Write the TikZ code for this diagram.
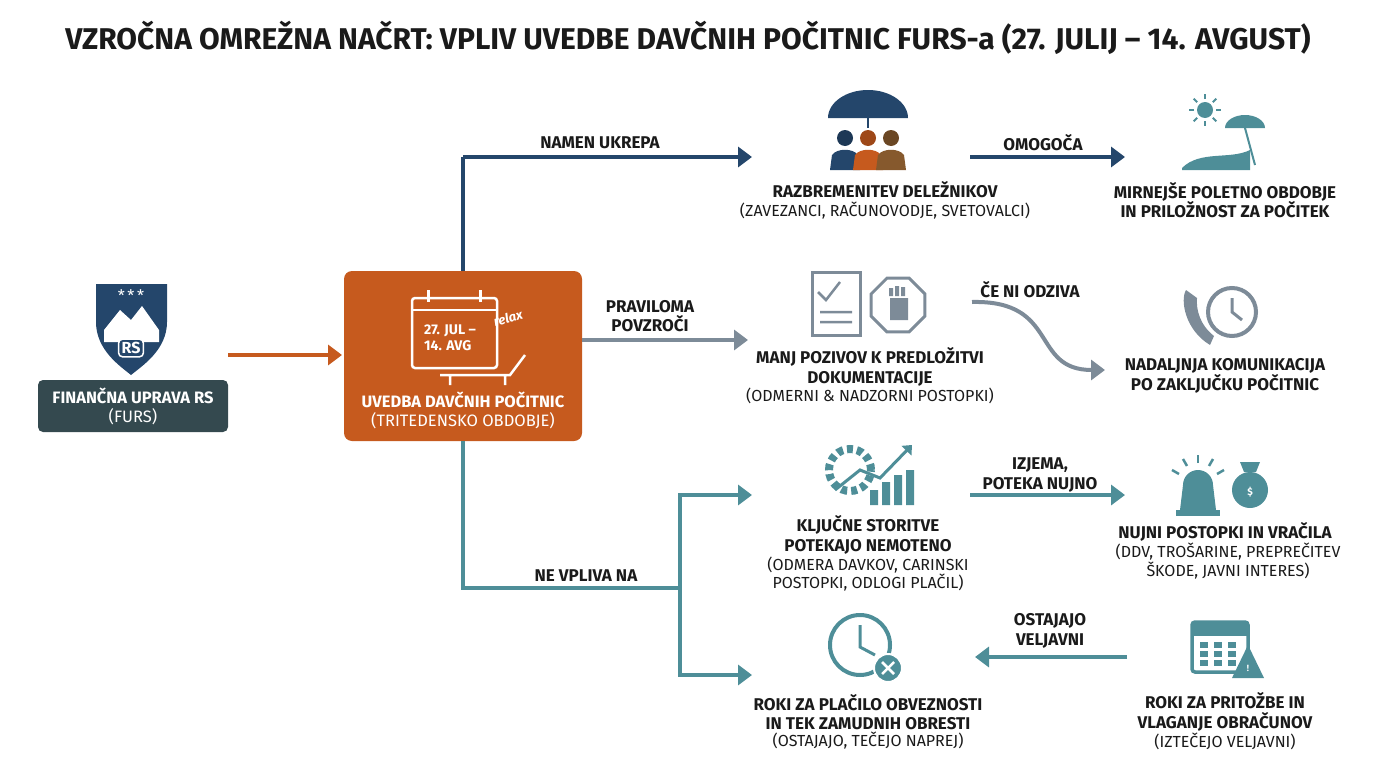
\documentclass[tikz,border=0pt]{standalone}
\usepackage{fontspec}
\setmainfont{Fira Sans}
\usetikzlibrary{arrows.meta,shapes.geometric,calc}
\definecolor{navy}{HTML}{24466B}
\definecolor{org}{HTML}{C65A1E}
\definecolor{gry}{HTML}{7D8B98}
\definecolor{teal}{HTML}{4E8E98}
\definecolor{slate}{HTML}{34494F}
\definecolor{txt}{HTML}{1A1A1A}
\begin{document}
\begin{tikzpicture}[x=1pt,y=-1pt,
  lbl/.style={align=center,font=\fontsize{16}{18.5}\selectfont,text=txt},
  ttl/.style={align=center,font=\fontsize{17}{19.5}\selectfont\bfseries,text=txt},
  conn/.style={line width=4pt,-{Triangle[length=14pt,width=20pt]}},
  icon/.style={line width=2pt}]
\useasboundingbox (0,0) rectangle (1376,768);
\node[font=\fontsize{30}{33}\selectfont\bfseries,text=txt] (title) at (688,38) {VZROČNA OMREŽNA NAČRT: VPLIV UVEDBE DAVČNIH POČITNIC FURS-a (27. JULIJ – 14. AVGUST)};

% FURS
\fill[navy] (96,284) -- (167,284) -- (167,322) .. controls (167,350) and (142,366) .. (131,375) .. controls (120,366) and (96,350) .. (96,322) -- cycle;
\fill[white] (104,330) -- (120,310) -- (131,320) -- (142,306) -- (159,330) -- (159,342) -- (104,342) -- cycle;
\node[text=white,font=\fontsize{16}{16}\selectfont] (st) at (131,296) {*\,*\,*};
\node[fill=navy,text=white,rounded corners=4pt,font=\fontsize{16}{16}\selectfont\bfseries,inner sep=3pt,line width=1.5pt,draw=white] (rs) at (131,348) {RS};
\node[fill=slate,rounded corners=5pt,minimum width=190pt,minimum height=52pt,align=center,text=white,font=\fontsize{16.5}{19}\selectfont] (furs) at (133,406) {\bfseries FINANČNA UPRAVA RS\\(FURS)};
\node[fill=org,rounded corners=8pt,minimum width=238pt,minimum height=170pt] (uv) at (463,356) {};
\node[align=center,text=white,font=\fontsize{16.5}{19}\selectfont] (uvt) at (463,410) {\bfseries UVEDBA DAVČNIH POČITNIC\\(TRITEDENSKO OBDOBJE)};
% calendar icon
\draw[white,line width=2.5pt,rounded corners=3pt] (412,298) rectangle (497,368);
\draw[white,line width=2.5pt] (412,310) -- (497,310);
\draw[white,line width=3pt] (428,290) -- (428,302) (480,290) -- (480,302);
\node[text=white,font=\fontsize{14}{16}\selectfont\bfseries,align=left] (cal) at (450,338) {27. JUL –\\14. AVG};
\node[text=white,font=\fontsize{13}{13}\selectfont\itshape\bfseries,rotate=15] (rel) at (508,318) {relax};
\draw[white,line width=2.5pt] (440,375) -- (510,375) -- (525,355) (450,375) -- (450,385) (505,375) -- (505,385);
\draw[org,conn] (228,355) -- (342,355);

% connectors from uv
\coordinate (n1) at (463,157);
\draw[navy,line width=4pt] (uv.north) -- (n1);
\draw[navy,conn] (n1) -- (752,157);
\node[ttl] (l1) at (600,143) {NAMEN UKREPA};
\draw[gry,conn] (582,340) -- (748,340);
\node[ttl] (l2) at (650,316) {PRAVILOMA\\POVZROČI};
\coordinate (t1) at (463,588); \coordinate (t2) at (680,588);
\draw[teal,line width=4pt] (uv.south) -- (t1) -- (t2);
\draw[teal,line width=4pt] (680,493) -- (680,677);
\draw[teal,conn] (678,495) -- (752,495);
\draw[teal,conn] (678,675) -- (752,675);
\node[ttl] (l3) at (586,576) {NE VPLIVA NA};

% row 1
\node[ttl] (r1) at (885,190) {RAZBREMENITEV DELEŽNIKOV};
\node[lbl] (r1b) at (885,211) {(ZAVEZANCI, RAČUNOVODJE, SVETOVALCI)};
\fill[navy] (828,118) arc (180:360:40 and 28) -- cycle;
\draw[navy,line width=2.5pt] (868,118) -- (868,128);
\foreach \x/\c in {845/navy,868/org,891/brown!70!black}{
  \fill[\c!80!black] (\x,138) circle (8);
  \fill[\c] (\x-15,170) -- (\x-13,155) .. controls (\x-8,148) and (\x+8,148) .. (\x+13,155) -- (\x+15,170) -- cycle;}
\draw[navy,conn] (970,157) -- (1125,157);
\node[ttl] (l4) at (1043,143) {OMOGOČA};
\node[ttl] (r2) at (1225,200) {MIRNEJŠE POLETNO OBDOBJE\\IN PRILOŽNOST ZA POČITEK};
\fill[teal] (1182,168) .. controls (1200,150) and (1230,160) .. (1250,150) -- (1250,170) -- (1182,170) -- cycle;
\fill[teal] (1205,110) circle (8);
\foreach \a in {0,45,...,315} \draw[teal,line width=2pt] ($(1205,110)+(\a:11)$) -- ($(1205,110)+(\a:16)$);
\fill[teal] (1225,128) arc (180:360:20 and 13) -- cycle;
\draw[teal,line width=2pt] (1245,128) -- (1255,165);

% row 2
\node[ttl] (m1) at (870,367) {MANJ POZIVOV K PREDLOŽITVI\\DOKUMENTACIJE};
\node[lbl] (m1b) at (870,396) {(ODMERNI \& NADZORNI POSTOPKI)};
\draw[gry,line width=3pt] (812,272) rectangle (860,335);
\draw[gry,line width=2.5pt] (818,292) -- (826,300) -- (840,282) (820,312) -- (852,312) (820,322) -- (852,322);
\node[regular polygon,regular polygon sides=8,draw=gry,line width=3pt,minimum size=58pt] (stop) at (898,305) {};
\fill[gry] (890,320) rectangle (908,298) (889,296) rectangle (893,288) (895,296) rectangle (899,286) (901,296) rectangle (905,287);
\coordinate (c1) at (1105,370);
\draw[gry,conn] (972,302) .. controls (1060,300) and (1030,370) .. (c1);
\node[ttl] (l5) at (1030,290) {ČE NI ODZIVA};
\node[ttl] (m2) at (1225,376) {NADALJNJA KOMUNIKACIJA\\PO ZAKLJUČKU POČITNIC};
\draw[gry,line width=4pt] (1232,312) circle (24);
\draw[gry,line width=3pt] (1232,298) -- (1232,312) -- (1242,320);
\fill[gry] (1186,290) .. controls (1180,300) and (1185,330) .. (1210,345) -- (1214,336) .. controls (1200,325) and (1196,310) .. (1197,298) -- cycle;

% row 3
\node[ttl] (k1) at (868,535) {KLJUČNE STORITVE\\POTEKAJO NEMOTENO};
\node[lbl] (k1b) at (868,574) {(ODMERA DAVKOV, CARINSKI\\POSTOPKI, ODLOGI PLAČIL)};
\node[circle,draw=teal,line width=8pt,dashed,dash pattern=on 6pt off 4pt,minimum size=42pt] (gear) at (850,470) {};
\fill[teal] (870,505) rectangle (878,490) (882,505) rectangle (890,482) (894,505) rectangle (902,475) (906,505) rectangle (914,470);
\draw[teal,line width=3pt,-{Triangle[length=8pt]}] (835,490) -- (860,470) -- (880,478) -- (912,445);
\draw[teal,conn] (970,495) -- (1125,495);
\node[ttl] (l6) at (1040,475) {IZJEMA,\\POTEKA NUJNO};
\node[ttl] (n2) at (1225,532) {NUJNI POSTOPKI IN VRAČILA};
\node[lbl] (n2b) at (1228,561) {(DDV, TROŠARINE, PREPREČITEV\\ŠKODE, JAVNI INTERES)};
\fill[teal] (1180,510) -- (1183,485) arc (180:360:15) -- (1216,510) -- cycle;
\fill[teal] (1176,510) rectangle (1220,516);
\foreach \a in {-150,-120,-90,-60,-30} \draw[teal,line width=2.5pt] ($(1198,485)+(\a:22)$) -- ($(1198,485)+(\a:30)$);
\fill[teal] (1250,490) circle (18);
\fill[teal] (1244,472) -- (1256,472) -- (1260,462) -- (1240,462) -- cycle;
\node[text=white,font=\bfseries] (dol) at (1250,492) {\$};

% row 4
\node[ttl] (p1) at (868,712) {ROKI ZA PLAČILO OBVEZNOSTI\\IN TEK ZAMUDNIH OBRESTI};
\node[lbl] (p1b) at (868,741) {(OSTAJAJO, TEČEJO NAPREJ)};
\draw[teal,line width=4pt] (860,645) circle (30);
\draw[teal,line width=3pt] (860,625) -- (860,647) -- (875,655);
\node[circle,fill=teal,draw=white,line width=2pt,minimum size=28pt] (x) at (888,668) {};
\draw[white,line width=2.5pt] (882,662) -- (894,674) (894,662) -- (882,674);
\draw[teal,conn] (1127,657) -- (975,657);
\node[ttl] (l7) at (1050,631) {OSTAJAJO\\VELJAVNI};
\node[ttl] (p2) at (1225,712) {ROKI ZA PRITOŽBE IN\\VLAGANJE OBRAČUNOV};
\node[lbl] (p2b) at (1225,741) {(IZTEČEJO VELJAVNI)};
\draw[teal,line width=3.5pt,rounded corners=3pt] (1192,622) rectangle (1248,672);
\fill[teal] (1192,622) rectangle (1248,636);
\foreach \i in {0,1,2} \foreach \j in {0,1,2} \fill[teal] (1200+\i*14,642+\j*9) rectangle (1208+\i*14,648+\j*9);
\fill[teal] (1248,645) -- (1264,678) -- (1232,678) -- cycle;
\node[text=white,font=\bfseries\small] (ex) at (1248,668) {!};
\end{tikzpicture}
\end{document}
